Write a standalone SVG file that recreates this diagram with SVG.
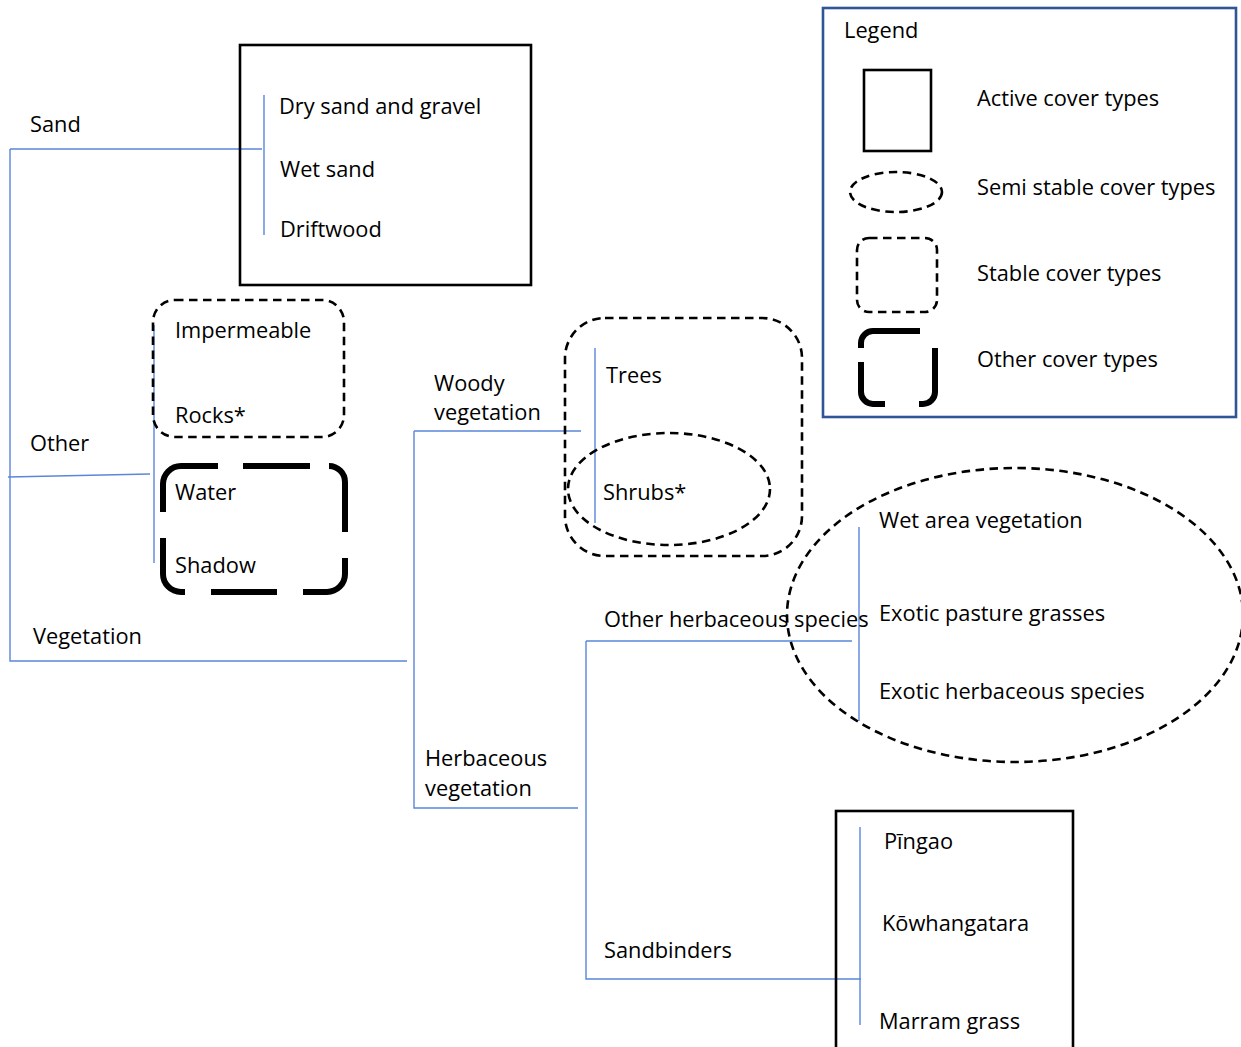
<svg xmlns="http://www.w3.org/2000/svg" width="1241" height="1047" viewBox="0 0 1241 1047">
<style>
text{font-family:"Open Sans","Liberation Sans",sans-serif;font-size:21.8px;fill:#000}
.c{fill:none;stroke:#5b87da;stroke-width:1.4}
.solid{fill:none;stroke:#000;stroke-width:2.6}
.dash{fill:none;stroke:#000;stroke-width:2.6;stroke-dasharray:8.5 5.5}
.thick{fill:none;stroke:#000;stroke-width:6}
</style>
<rect width="1241" height="1047" fill="#fff"/>
<g id="connectors">
<path class="c" d="M10,149 H262 M10,149 V661 H407"/>
<path class="c" d="M264,95 V235"/>
<path class="c" d="M8,477 L150,474"/>
<path class="c" d="M154,325 V563"/>
<path class="c" d="M414,431 H581 M414,431 V808 H578"/>
<path class="c" d="M595,348 V523"/>
<path class="c" d="M586,641 H852 M586,641 V979 H861"/>
<path class="c" d="M859,527 V721"/>
<path class="c" d="M860,827 V1025"/>
</g>
<g id="sand-box">
<rect class="solid" x="240" y="45" width="291" height="240"/>
<text x="279" y="114">Dry sand and gravel</text>
<text x="280" y="177">Wet sand</text>
<text x="280" y="237">Driftwood</text>
</g>
<g id="sand"><text x="30" y="132">Sand</text></g>
<g id="other"><text x="30" y="451">Other</text></g>
<g id="vegetation"><text x="33" y="644">Vegetation</text></g>
<g id="impermeable-box">
<rect class="dash" x="153" y="300" width="191" height="137" rx="22"/>
<text x="175" y="338">Impermeable</text>
<text x="175" y="423">Rocks*</text>
</g>
<g id="water-box">
<path class="thick" d="M163,512 V484 A18,18 0 0 1 181,466 H218 M243,466 H310 M329,466 A16,16 0 0 1 345,482 V532 M163,538 V574 A18,18 0 0 0 181,592 H185 M211,592 H277 M303,592 H327 A18,18 0 0 0 345,574 V558"/>
<text x="175" y="500">Water</text>
<text x="175" y="573">Shadow</text>
</g>
<g id="woody">
<text x="434" y="391">Woody</text>
<text x="434" y="420">vegetation</text>
</g>
<g id="herbaceous">
<text x="425" y="766">Herbaceous</text>
<text x="425" y="796">vegetation</text>
</g>
<g id="woody-box">
<rect class="dash" x="565" y="318" width="237" height="238" rx="40"/>
<text x="606" y="383">Trees</text>
</g>
<g id="shrubs-ellipse">
<ellipse class="dash" cx="669" cy="489" rx="101" ry="56"/>
<text x="603" y="500">Shrubs*</text>
</g>
<g id="other-herbaceous"><text x="604" y="627">Other herbaceous species</text></g>
<g id="wet-ellipse">
<ellipse class="dash" cx="1015" cy="615" rx="228" ry="147"/>
<text x="879" y="528">Wet area vegetation</text>
<text x="879" y="621">Exotic pasture grasses</text>
<text x="879" y="699">Exotic herbaceous species</text>
</g>
<g id="sandbinders"><text x="604" y="958">Sandbinders</text></g>
<g id="sandbinders-box">
<rect class="solid" x="836" y="811" width="237" height="250"/>
<text x="884" y="849">Pīngao</text>
<text x="882" y="931">Kōwhangatara</text>
<text x="879" y="1029">Marram grass</text>
</g>
<g id="legend">
<rect x="823" y="8" width="413" height="409" fill="none" stroke="#2f5597" stroke-width="2.6"/>
<text x="844" y="38">Legend</text>
<rect class="solid" x="864" y="70" width="67" height="81"/>
<text x="977" y="106">Active cover types</text>
<ellipse class="dash" cx="896" cy="192" rx="46" ry="20"/>
<text x="977" y="195">Semi stable cover types</text>
<rect class="dash" x="857" y="238" width="80" height="74" rx="12"/>
<text x="977" y="281">Stable cover types</text>
<path class="thick" d="M861,348 V343 A12,12 0 0 1 873,331 H920 M861,362 V392 A12,12 0 0 0 873,404 H885 M935,348 V392 A12,12 0 0 1 923,404 H919"/>
<text x="977" y="367">Other cover types</text>
</g>
</svg>
